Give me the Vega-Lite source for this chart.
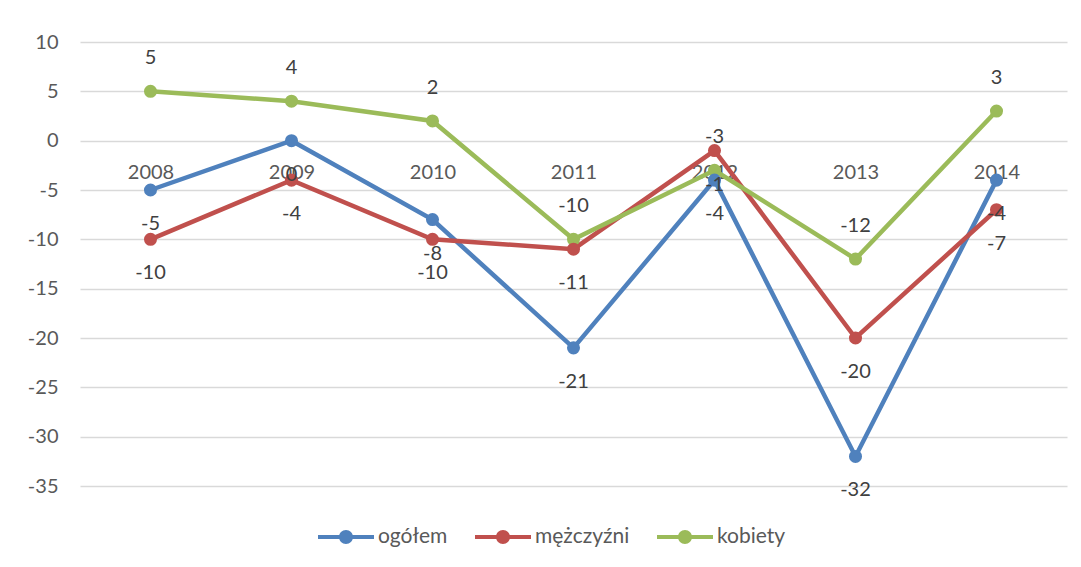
{
  "$schema": "https://vega.github.io/schema/vega-lite/v6.json",
  "width": 987,
  "height": 444,
  "autosize": {"type": "none"},
  "padding": {"left": 80, "top": 42, "right": 14, "bottom": 81},
  "background": "white",
  "config": {
    "view": {"stroke": null},
    "font": "Lato",
    "locale": {"number": {"decimal": ".", "thousands": ",", "grouping": [3], "currency": ["", ""], "minus": "-"}},
    "axis": {"labelFont": "Lato", "labelFontSize": 20, "labelColor": "#595959"},
    "legend": {"labelFont": "Lato", "labelFontSize": 21, "labelColor": "#595959"}
  },
  "data": {
    "values": [
      {"rok": "2008", "seria": "ogółem", "wartosc": -5},
      {"rok": "2009", "seria": "ogółem", "wartosc": 0},
      {"rok": "2010", "seria": "ogółem", "wartosc": -8},
      {"rok": "2011", "seria": "ogółem", "wartosc": -21},
      {"rok": "2012", "seria": "ogółem", "wartosc": -4},
      {"rok": "2013", "seria": "ogółem", "wartosc": -32},
      {"rok": "2014", "seria": "ogółem", "wartosc": -4},
      {"rok": "2008", "seria": "mężczyźni", "wartosc": -10},
      {"rok": "2009", "seria": "mężczyźni", "wartosc": -4},
      {"rok": "2010", "seria": "mężczyźni", "wartosc": -10},
      {"rok": "2011", "seria": "mężczyźni", "wartosc": -11},
      {"rok": "2012", "seria": "mężczyźni", "wartosc": -1},
      {"rok": "2013", "seria": "mężczyźni", "wartosc": -20},
      {"rok": "2014", "seria": "mężczyźni", "wartosc": -7},
      {"rok": "2008", "seria": "kobiety", "wartosc": 5},
      {"rok": "2009", "seria": "kobiety", "wartosc": 4},
      {"rok": "2010", "seria": "kobiety", "wartosc": 2},
      {"rok": "2011", "seria": "kobiety", "wartosc": -10},
      {"rok": "2012", "seria": "kobiety", "wartosc": -3},
      {"rok": "2013", "seria": "kobiety", "wartosc": -12},
      {"rok": "2014", "seria": "kobiety", "wartosc": 3}
    ]
  },
  "encoding": {
    "x": {
      "field": "rok", "type": "ordinal",
      "scale": {"type": "point", "padding": 0.5},
      "axis": {"title": null, "orient": "bottom", "offset": -345, "domain": false, "ticks": false, "labelAngle": 0, "labelPadding": 21, "grid": false}
    },
    "y": {
      "field": "wartosc", "type": "quantitative",
      "scale": {"domain": [-35, 10], "nice": false, "zero": false},
      "axis": {"title": null, "values": [-35, -30, -25, -20, -15, -10, -5, 0, 5, 10], "domain": false, "ticks": false, "labelPadding": 22, "gridColor": "#d9d9d9", "gridWidth": 1.5}
    }
  },
  "layer": [
    {
      "mark": {"type": "line", "strokeWidth": 4.5, "point": {"filled": true, "size": 170, "opacity": 1}},
      "encoding": {
        "color": {
          "field": "seria", "type": "nominal",
          "scale": {"domain": ["ogółem", "mężczyźni", "kobiety"], "range": ["#4F81BD", "#C0504D", "#9BBB59"]},
          "legend": {
            "title": null, "orient": "none", "direction": "horizontal",
            "legendX": 252, "legendY": 481,
            "symbolType": "M-2,-0.14 L2,-0.14 L2,0.14 L-2,0.14 Z M-0.5,0 A0.5,0.5 0 1,1 0.5,0 A0.5,0.5 0 1,1 -0.5,0 Z",
            "symbolSize": 784,
            "symbolStrokeWidth": 0,
            "labelOffset": 18,
            "columnPadding": 27,
            "encode": {"symbols": {"update": {"fill": {"scale": "color", "field": "value"}, "stroke": {"value": "transparent"}, "opacity": {"value": 1}}}}
          }
        },
        "order": {"field": "seria"}
      }
    },
    {
      "transform": [{"filter": "datum.seria === 'kobiety'"}],
      "mark": {"type": "text", "dy": -33, "fontSize": 20, "color": "#404040", "font": "Lato"},
      "encoding": {"text": {"field": "wartosc", "type": "quantitative"}}
    },
    {
      "transform": [{"filter": "datum.seria !== 'kobiety'"}],
      "mark": {"type": "text", "dy": 34, "fontSize": 20, "color": "#404040", "font": "Lato"},
      "encoding": {"text": {"field": "wartosc", "type": "quantitative"}}
    }
  ]
}
